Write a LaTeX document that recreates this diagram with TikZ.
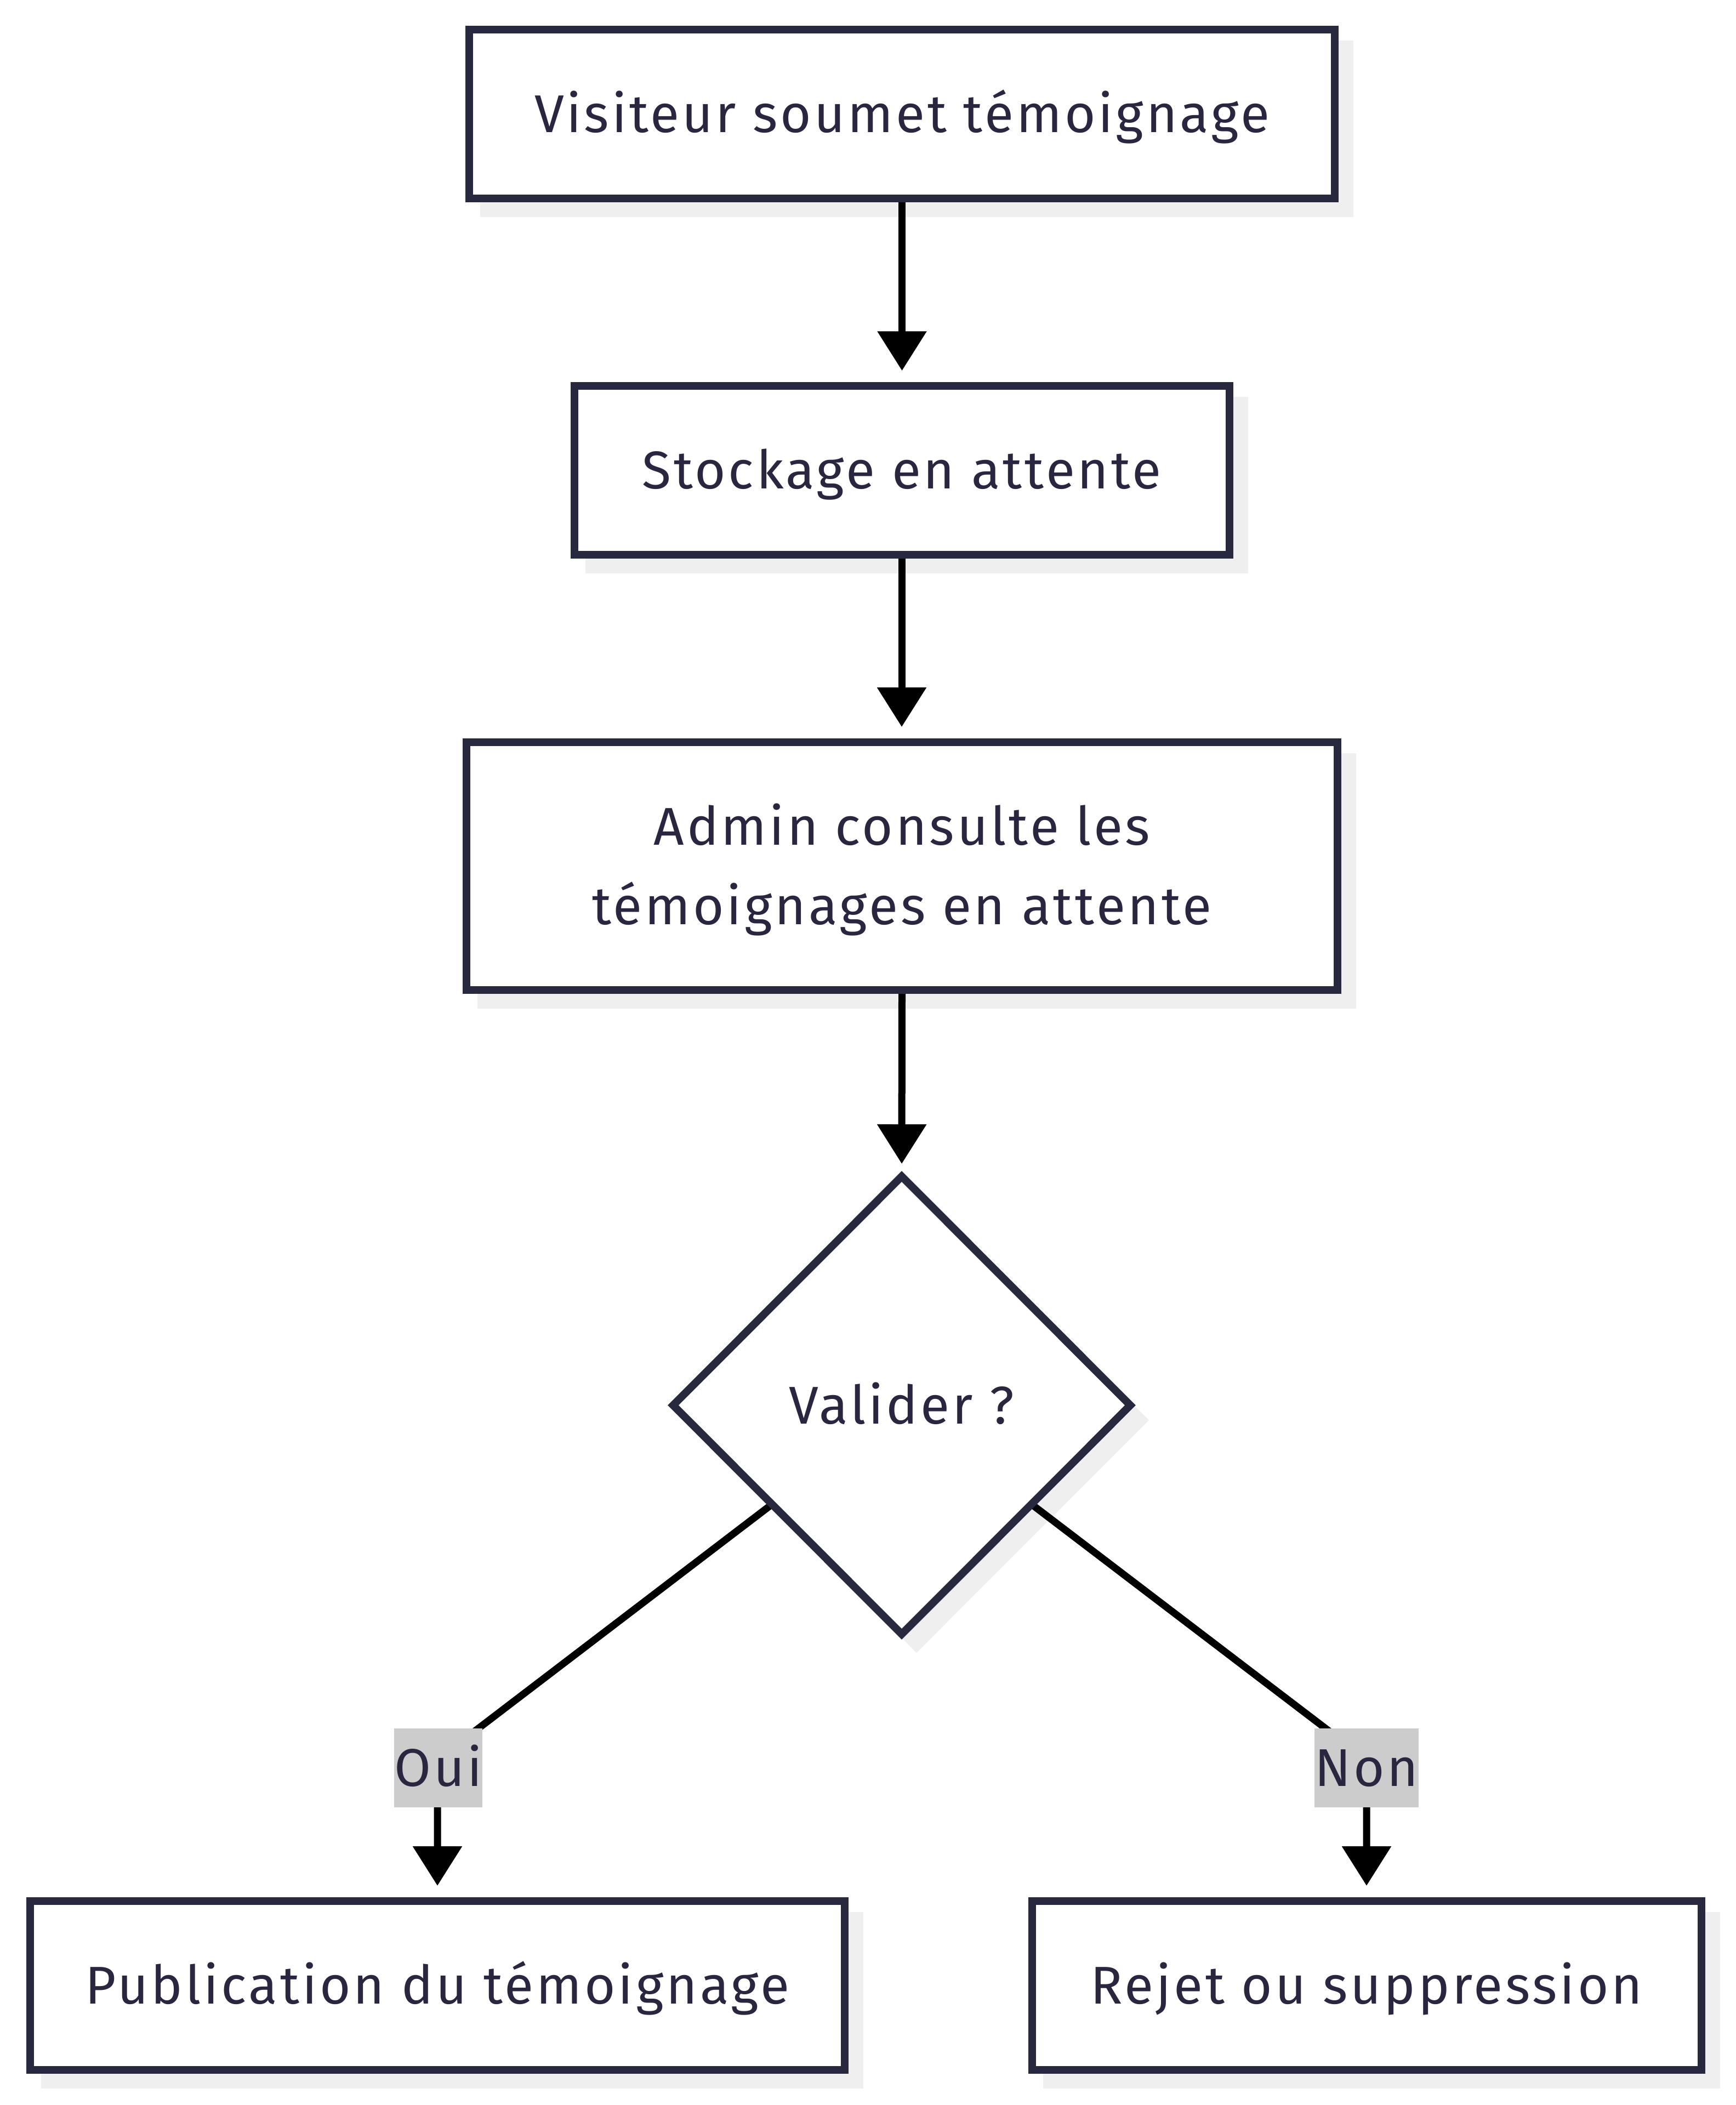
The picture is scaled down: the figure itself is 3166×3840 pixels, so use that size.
\documentclass[tikz,border=0pt]{standalone}
\usepackage{fontspec}
\setmainfont[LetterSpace=5]{Fira Sans}
\usetikzlibrary{arrows.meta,shapes.geometric}
\definecolor{bordc}{RGB}{40,40,62}
\definecolor{txtc}{RGB}{42,38,64}
\definecolor{shadc}{RGB}{239,239,239}
\definecolor{lblc}{RGB}{204,204,204}
\pgfdeclarelayer{shadow}
\pgfdeclarelayer{edges}
\pgfsetlayers{shadow,edges,main}
\begin{document}
\begin{tikzpicture}[x=1pt,y=-1pt,
  box/.style={draw=bordc, line width=14pt, fill=white, rectangle, inner sep=0pt,
    text=txtc, font=\fontsize{97}{145}\selectfont, text height=67pt, text depth=0pt},
  decision/.style={draw=bordc, line width=14pt, fill=white, diamond, aspect=1,
    inner sep=0pt, outer sep=0pt, text=txtc, font=\fontsize{97}{145}\selectfont},
  conn/.style={draw=black, line width=13pt},
  arr/.style={conn, -{Triangle[length=72pt,width=87pt]}, shorten >=21pt},
  lbl/.style={fill=lblc, text=txtc, inner sep=0pt, minimum width=157pt,
    minimum height=144pt, font=\fontsize{97}{145}\selectfont, text height=67pt, text depth=0pt},
  shadowfill/.style={fill=shadc}]
\useasboundingbox (0,0) rectangle (3166,3840);

\node[box, minimum width=1579pt, minimum height=308pt] (b1) at (1645.5,208) {Visiteur soumet témoignage};
\node[box, minimum width=1195pt, minimum height=307.5pt] (b2) at (1645,858) {Stockage en attente};
\node[box, minimum width=1589pt, minimum height=452pt, align=center, text height=212pt] (b3) at (1645.5,1580) {Admin consulte les\\témoignages en attente};
\node[decision, minimum width=834pt, minimum height=835pt] (dia) at (1645,2563.5) {};
\node[text=txtc, font=\fontsize{97}{145}\selectfont, text height=67pt, text depth=0pt, inner sep=0pt] (diatext) at (1645,2563.5) {Valider ?};
\node[box, minimum width=1486pt, minimum height=308pt] (b4) at (798,3622) {Publication du témoignage};
\node[box, minimum width=1221pt, minimum height=308pt] (b5) at (2493,3622) {Rejet ou suppression};

\coordinate (bl) at (798,3210);
\coordinate (br) at (2493,3210);

\node[lbl] (oui) at (799.5,3225) {Oui};
\node[lbl] (non) at (2493,3225) {Non};

\begin{pgfonlayer}{shadow}
  \foreach \n in {b1,b2,b3,b4,b5}
    \fill[shadowfill] ([shift={(27pt,-27pt)}]\n.south west) rectangle ([shift={(27pt,-27pt)}]\n.north east);
  \fill[shadowfill] ([shift={(27pt,-27pt)}]dia.north) -- ([shift={(34pt,-27pt)}]dia.east)
    -- ([shift={(27pt,-34pt)}]dia.south) -- ([shift={(20pt,-27pt)}]dia.west) -- cycle;
\end{pgfonlayer}

\begin{pgfonlayer}{edges}
  \draw[arr] (b1.south) -- (b1.south |- b2.north);
  \draw[arr] (b2.south) -- (b2.south |- b3.north);
  \draw[arr, shorten >=23pt] (b3.south) -- (dia.north);
  \draw[arr] (dia) -- (bl) -- (b4.north);
  \draw[arr] (dia) -- (br) -- (b5.north);
\end{pgfonlayer}
\end{tikzpicture}
\end{document}
